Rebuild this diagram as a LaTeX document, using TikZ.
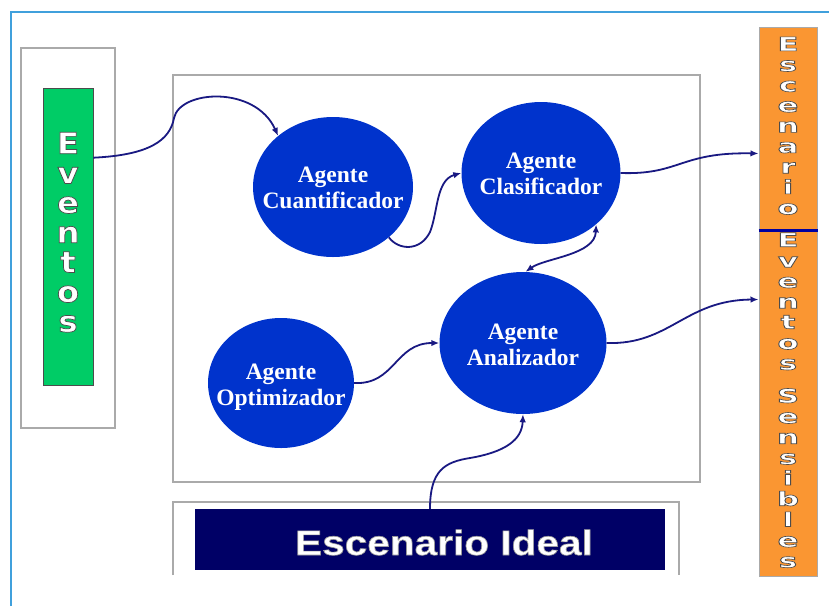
\documentclass[tikz,border=0pt]{standalone}
\usepackage{fontspec}
\setmainfont{Liberation Serif}
\setsansfont{Liberation Sans}
\newfontfamily\heavysans{DejaVu Sans}
\usepackage{graphicx}
\usetikzlibrary{arrows.meta,shapes.geometric,calc}
\definecolor{framec}{RGB}{64,160,220}
\definecolor{boxgray}{RGB}{170,170,170}
\definecolor{evgreen}{RGB}{0,204,102}
\definecolor{orangec}{RGB}{250,150,50}
\definecolor{agentblue}{RGB}{0,51,204}
\definecolor{navyc}{RGB}{0,0,102}
\definecolor{arrowc}{RGB}{25,25,130}
\definecolor{divc}{RGB}{0,0,160}
\newcommand\outl[3]{\special{pdf:literal direct 2 Tr #1 w #2 #2 #2 RG}#3\special{pdf:literal direct 0 Tr}}
\begin{document}
\begin{tikzpicture}[x=1pt,y=-1pt,
  graybox/.style={draw=boxgray, line width=1.5pt, fill=white, inner sep=0pt},
  agent/.style={ellipse, fill=agentblue, inner sep=0pt},
  agenttext/.style={text=white, align=center, font=\fontsize{23.5}{26}\selectfont\bfseries, inner sep=0pt},
  bar/.style={draw=boxgray, line width=1pt, inner sep=0pt, text=white},
  arr/.style={draw=arrowc, line width=1.8pt, -{Latex[length=8pt,width=6.5pt]}},
  arrs/.style={draw=arrowc, line width=1.8pt, {Latex[length=8pt,width=6.5pt]}-{Latex[length=8pt,width=6.5pt]}},
  ]
\useasboundingbox (0,0) rectangle (829,606);
\fill[white] (0,0) rectangle (829,606);
\draw[framec, line width=2.5pt] (11,606) -- (11,12) -- (829,12);

% left Eventos
\node[graybox, minimum width=94pt, minimum height=380pt] (evOuter) at (68,238) {};
\node[fill=evgreen, draw=gray!60!black, line width=0.6pt, minimum width=50pt, minimum height=297pt, inner sep=0pt, text=white] (evG) at (68,236.5)
  {\outl{0.7}{0.3}{\heavysans\bfseries\fontsize{29.5}{29.7}\selectfont\scalebox{1.1}[1]{\begin{tabular}{@{}c@{}}E\\v\\e\\n\\t\\o\\s\end{tabular}}}};

% main box
\node[graybox, minimum width=527pt, minimum height=407pt] (mainBox) at (436.5,278.5) {};

% Escenario Ideal
\draw[boxgray, line width=1.5pt] (173,575) -- (173,502) -- (679,502) -- (679,575);
\node[fill=navyc, minimum width=470pt, minimum height=61pt, inner sep=0pt] (ideal) at (430,539.5) {};
\node[text=white, font=\sffamily\bfseries\fontsize{35}{40}\selectfont, inner sep=0pt] (idealT) at (444,542.5) {\outl{0.6}{0.6}{\scalebox{1.16}[1]{Escenario Ideal}}};

% right bars
\node[bar, fill=orangec, minimum width=58pt, minimum height=203pt] (escBar) at (788,128.5)
  {\raisebox{-3pt}{\outl{0.6}{0.3}{\heavysans\bfseries\fontsize{19.2}{20.4}\selectfont\scalebox{1.6}[1]{\begin{tabular}{@{}c@{}}E\\s\\c\\e\\n\\a\\r\\i\\o\end{tabular}}}}};
\node[bar, fill=orangec, minimum width=58pt, minimum height=346pt] (sensBar) at (788,403)
  {\raisebox{-4pt}{\outl{0.6}{0.3}{\heavysans\bfseries\fontsize{19.2}{20.5}\selectfont\scalebox{1.6}[1]{\begin{tabular}{@{}c@{}}E\\v\\e\\n\\t\\o\\s\\[12.5pt]S\\e\\n\\s\\i\\b\\l\\e\\s\end{tabular}}}}};
\draw[divc, line width=2.5pt] (escBar.south west) -- (escBar.south east);

% agents
\node[agent, minimum width=160pt, minimum height=140pt] (cuan) at (333,187) {};
\node[agenttext] (cuanT) at (333,188) {Agente\\Cuantificador};
\node[agent, minimum width=159pt, minimum height=142pt] (clas) at (541,173) {};
\node[agenttext] (clasT) at (541,174) {Agente\\Clasificador};
\node[agent, minimum width=167pt, minimum height=142pt] (anal) at (523,343) {};
\node[agenttext] (analT) at (523,345) {Agente\\Analizador};
\node[agent, minimum width=146pt, minimum height=130pt] (opt) at (281,383) {};
\node[agenttext] (optT) at (281,387) {Agente\\Optimizador};

% connectors
\draw[arr] ($(evG.north east)+(0,70)$) .. controls (150,155) and (170,140) .. (174,118) .. controls (180,90) and (255,85) .. (cuan.137);
\draw[arr] (cuan.-42) .. controls (398,250) and (420,252) .. (430,232) .. controls (438,212) and (436,180) .. (clas.west);
\draw[arrs] (clas.-43) .. controls (595,255) and (545,258) .. (anal.88);
\draw[arr] (clas.east) .. controls (680,175) and (680,152) .. ($(escBar.south west)+(0,-77)$);
\draw[arr] (anal.east) .. controls (670,345) and (685,300) .. ($(sensBar.north west)+(0,70)$);
\draw[arr] (opt.east) .. controls (395,385) and (395,343) .. (anal.west);
\draw[arr] (ideal.north) .. controls (430,470) and (445,462) .. (470,458) .. controls (505,452) and (522,440) .. (anal.south);
\end{tikzpicture}
\end{document}
